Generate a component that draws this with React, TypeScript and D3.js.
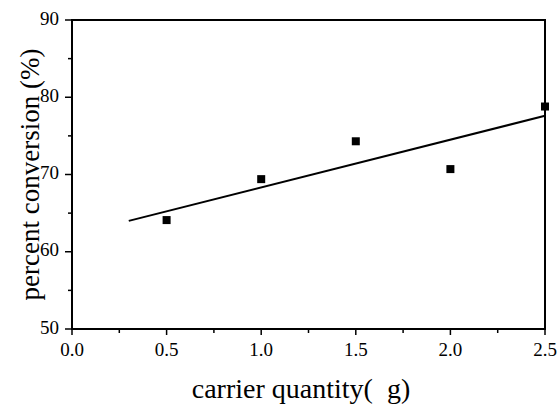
import React from "react";
import * as d3 from "d3";

const carrierQty = [0.5, 1.0, 1.5, 2.0, 2.5];
const conversion = [64.1, 69.4, 74.3, 70.7, 78.8];
const fitX = [0.3, 2.5];
const fitY = [64.0, 77.6];
const xTicks = [0, 0.5, 1.0, 1.5, 2.0, 2.5];
const xMinor = [0.25, 0.75, 1.25, 1.75, 2.25];
const yTicks = [50, 60, 70, 80, 90];
const yMinor = [55, 65, 75, 85];
const xTitle = "carrier quantity(  g)";
const yTitle = "percent conversion (%)";

const W = 558, H = 409;
const M = { left: 72, right: 545, top: 20, bottom: 329 };
const FONT = "'Liberation Serif', 'Times New Roman', serif";

export default function App() {
  const x = d3.scaleLinear().domain([0, 2.5]).range([M.left, M.right]);
  const y = d3.scaleLinear().domain([50, 90]).range([M.bottom, M.top]);
  const line = d3.line<number>().x((d, i) => x(fitX[i])).y((d) => y(d));
  const ms = 8;
  return (
    <svg width={W} height={H} style={{ position: "absolute", left: 0, top: 0, background: "#fff" }}
      fontFamily={FONT}>
      <rect x={0} y={0} width={W} height={H} fill="#fff" />
      <rect x={M.left} y={M.top} width={M.right - M.left} height={M.bottom - M.top}
        fill="none" stroke="#000" strokeWidth={2} />
      {yTicks.map((t) => (
        <g key={"y" + t}>
          <line x1={M.left - 7} x2={M.left} y1={y(t)} y2={y(t)} stroke="#000" strokeWidth={1.5} />
          <text x={M.left - 13} y={y(t) + 4.5} textAnchor="end" fontSize={19} fill="#000">{t}</text>
        </g>
      ))}
      {yMinor.map((t) => (
        <line key={"ym" + t} x1={M.left - 4} x2={M.left} y1={y(t)} y2={y(t)} stroke="#000" strokeWidth={1.5} />
      ))}
      {xTicks.map((t) => (
        <g key={"x" + t}>
          <line x1={x(t)} x2={x(t)} y1={M.bottom} y2={M.bottom + 6} stroke="#000" strokeWidth={1.5} />
          <text x={x(t)} y={356} textAnchor="middle" fontSize={19} fill="#000">{d3.format(".1f")(t)}</text>
        </g>
      ))}
      {xMinor.map((t) => (
        <line key={"xm" + t} x1={x(t)} x2={x(t)} y1={M.bottom} y2={M.bottom + 4} stroke="#000" strokeWidth={1.5} />
      ))}
      <path d={line(fitY) || ""} fill="none" stroke="#000" strokeWidth={2} />
      {carrierQty.map((c, i) => (
        <rect key={"p" + i} x={x(c) - ms / 2} y={y(conversion[i]) - ms / 2} width={ms} height={ms} fill="#000" />
      ))}
      <text x={301} y={398} textAnchor="middle" fontSize={28} fill="#000"
        style={{ whiteSpace: "pre" }}>{xTitle}</text>
      <text transform={`translate(39, ${(M.top + M.bottom) / 2}) rotate(-90)`} textAnchor="middle"
        fontSize={27} fill="#000">{yTitle}</text>
    </svg>
  );
}
